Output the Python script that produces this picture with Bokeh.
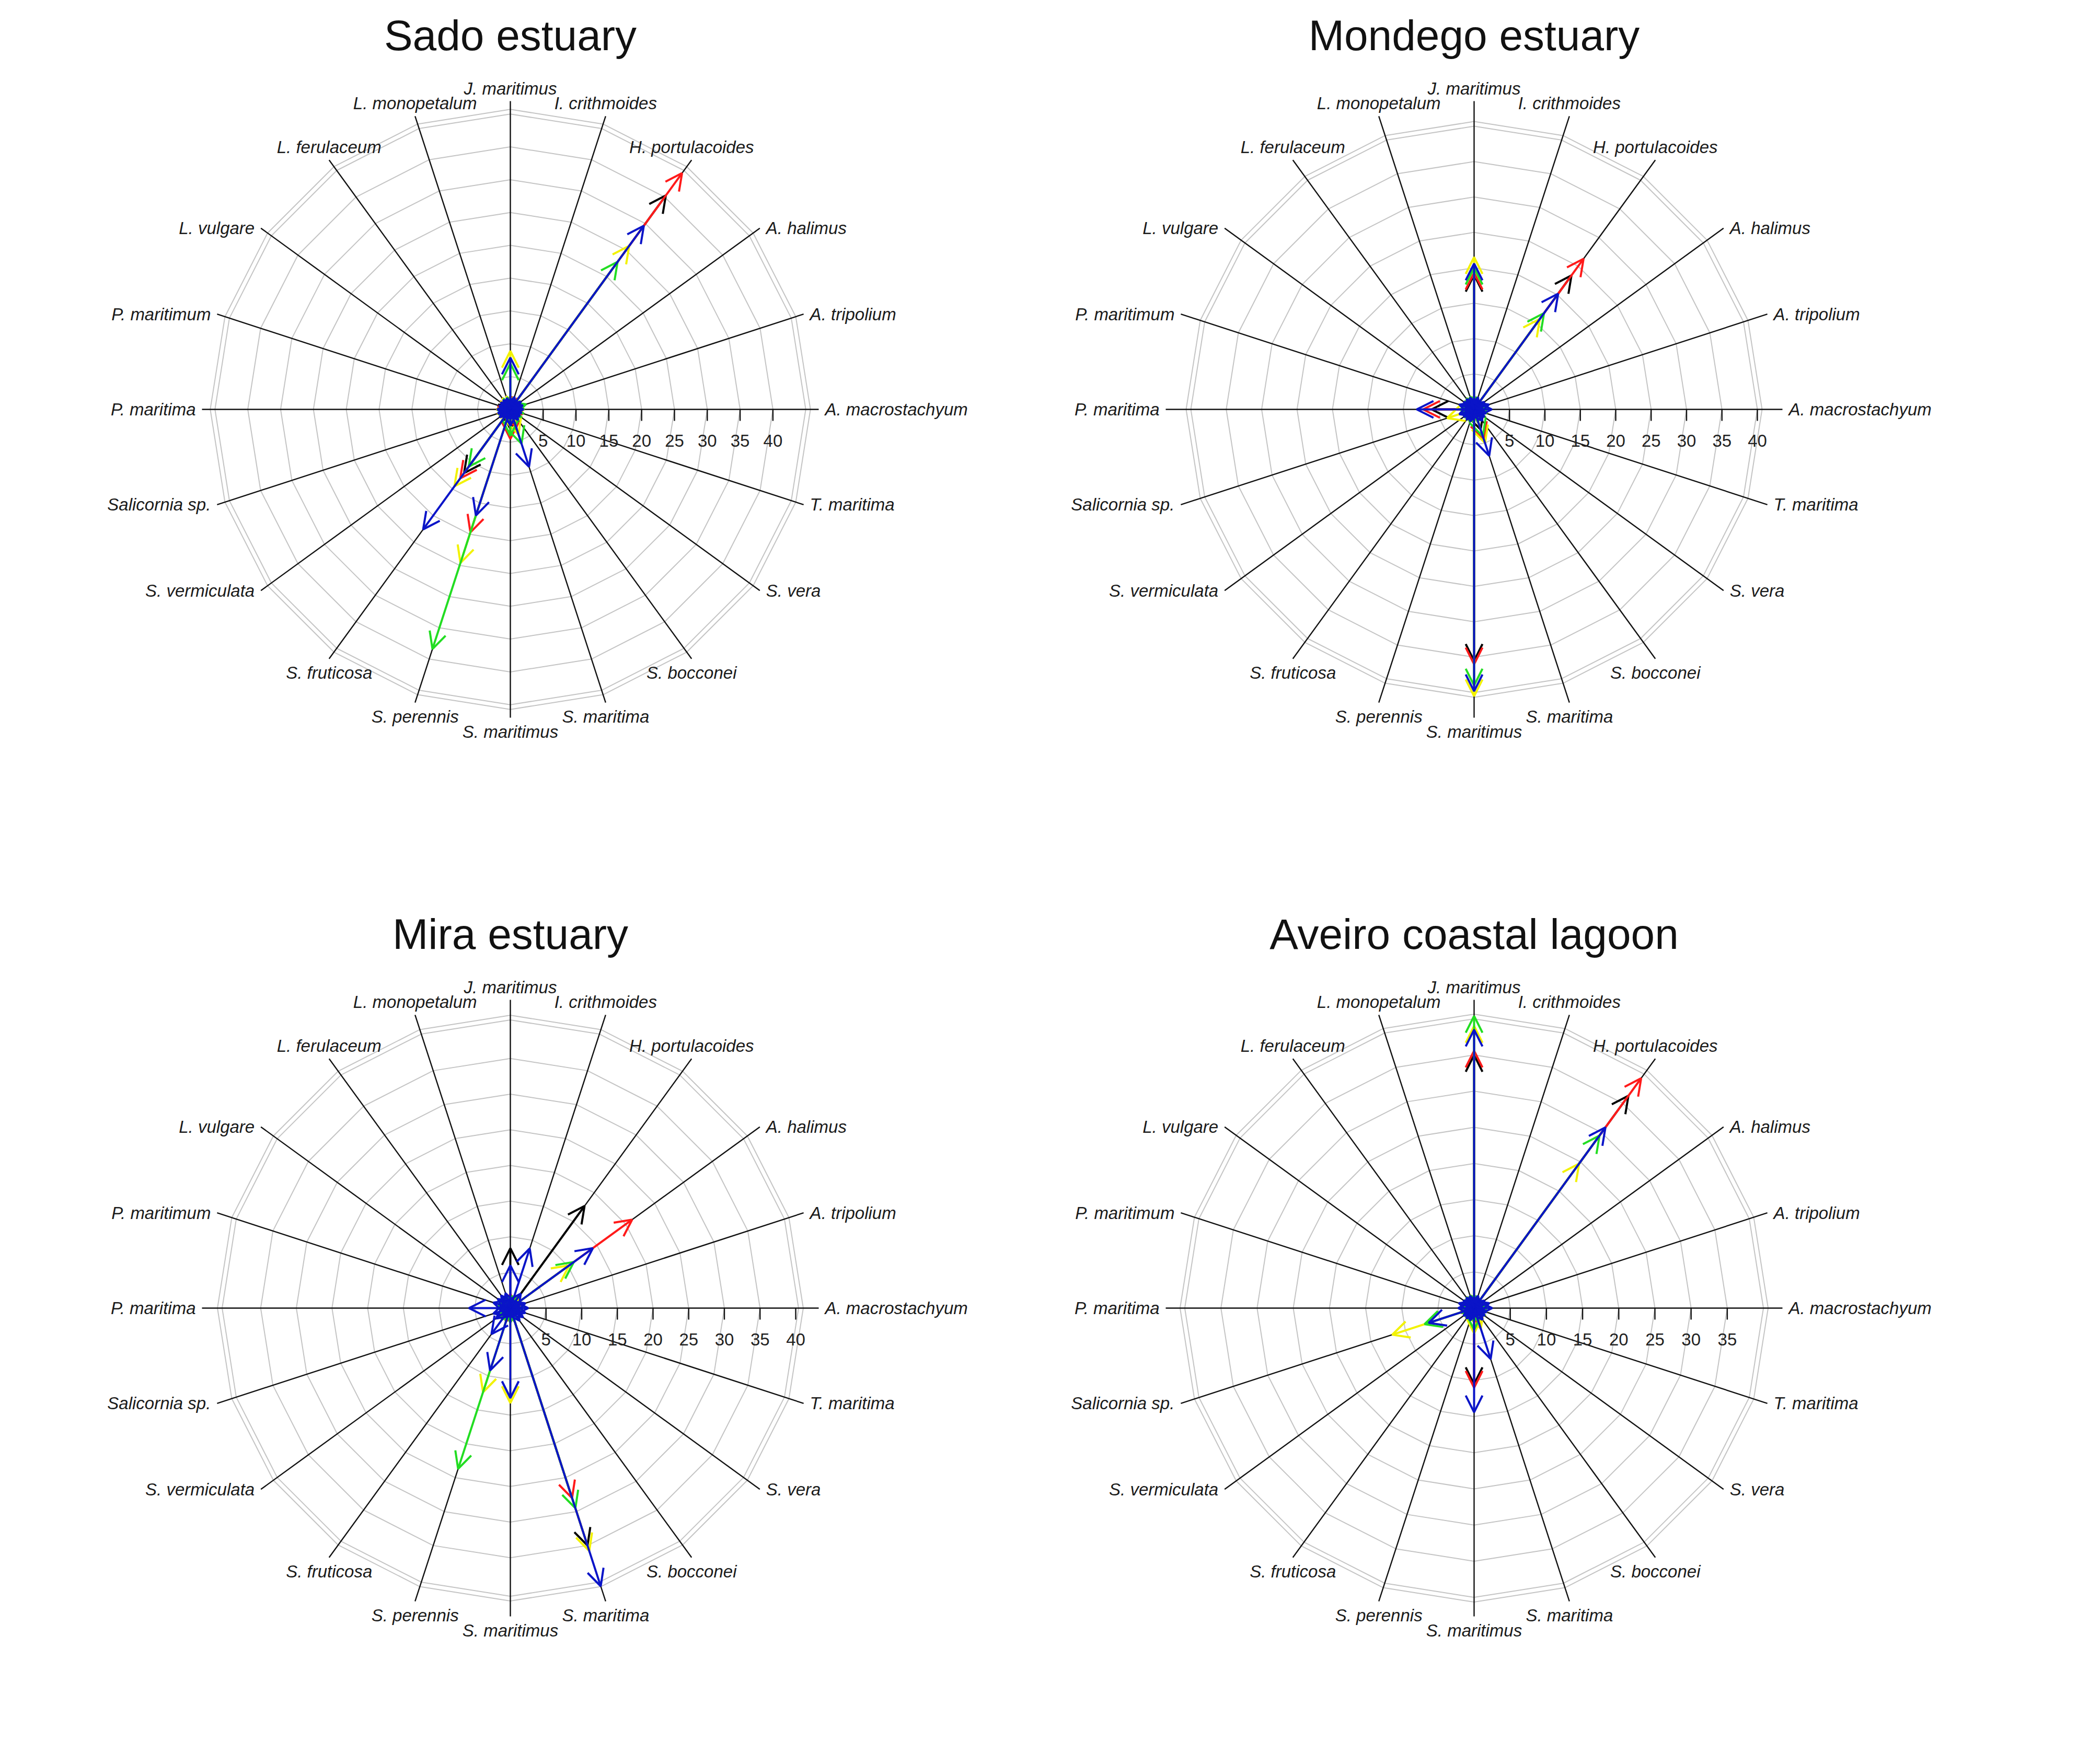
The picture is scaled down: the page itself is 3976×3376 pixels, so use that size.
import numpy as np
from bokeh.plotting import figure
from bokeh.models import ColumnDataSource, Range1d, Arrow, OpenHead
from bokeh.layouts import column, row
from bokeh.embed import file_html
from bokeh.resources import INLINE
from bokeh.core.properties import value

# ---------------- data ----------------
species = ["J. maritimus", "I. crithmoides", "H. portulacoides", "A. halimus", "A. tripolium",
           "A. macrostachyum", "T. maritima", "S. vera", "S. bocconei", "S. maritima",
           "S. maritimus", "S. perennis", "S. fruticosa", "S. vermiculata", "Salicornia sp.",
           "P. maritima", "P. maritimum", "L. vulgare", "L. ferulaceum", "L. monopetalum"]
spoke_angle_deg = [90, 72, 54, 36, 18, 0, -18, -36, -54, -72, -90, -108, -126, -144, -162,
                   180, 162, 144, 126, 108]

titles = ["Sado estuary", "Mondego estuary", "Mira estuary", "Aveiro coastal lagoon"]
series_names = ["black", "red", "yellow", "green", "blue"]

sado_black = [1.5, 1.0, 40.3, 1.0, 1.0, 1.0, 0.8, 0.8, 1.0, 2.0, 3.0, 2.0, 12.0, 1.0, 1.0, 1.0, 0.8, 0.8, 0.8, 0.8]
sado_red = [2.0, 1.0, 44.5, 1.0, 1.5, 1.0, 0.8, 0.8, 1.0, 3.0, 4.5, 19.7, 13.0, 1.0, 1.0, 1.0, 0.8, 0.8, 0.8, 0.8]
sado_yellow = [8.9, 1.0, 30.8, 1.0, 1.5, 1.0, 0.8, 0.8, 1.5, 4.0, 2.0, 24.6, 14.5, 1.0, 1.5, 1.0, 0.8, 0.8, 0.8, 0.8]
sado_green = [7.0, 1.5, 27.8, 1.5, 2.5, 2.0, 1.0, 1.0, 2.0, 5.5, 4.0, 38.4, 10.8, 1.5, 1.5, 1.0, 0.8, 0.8, 0.8, 0.8]
sado_blue = [7.9, 2.0, 34.6, 2.0, 2.0, 2.0, 1.8, 1.8, 2.0, 9.2, 2.5, 17.0, 22.6, 2.0, 2.0, 2.0, 1.8, 1.8, 1.8, 1.8]

mondego_black = [19.0, 1.0, 23.4, 1.0, 1.0, 1.0, 0.8, 0.8, 1.0, 3.0, 35.5, 1.0, 1.0, 1.0, 1.5, 6.0, 1.0, 0.8, 0.8, 0.8]
mondego_red = [19.3, 1.0, 26.3, 1.0, 2.0, 1.0, 0.8, 0.8, 1.0, 4.5, 36.0, 1.0, 1.0, 1.0, 2.0, 7.2, 1.0, 0.8, 0.8, 0.8]
mondego_yellow = [21.5, 1.0, 15.8, 1.0, 1.0, 1.0, 0.8, 0.8, 1.5, 5.0, 40.5, 1.5, 1.0, 1.5, 4.0, 2.0, 1.0, 0.8, 0.8, 0.8]
mondego_green = [20.0, 1.0, 16.8, 1.0, 1.0, 1.0, 0.8, 0.8, 1.0, 4.0, 39.0, 1.0, 1.0, 1.0, 2.0, 2.0, 1.0, 0.8, 0.8, 0.8]
mondego_blue = [20.6, 1.8, 20.2, 1.8, 2.2, 2.5, 1.8, 1.8, 2.0, 6.9, 39.8, 1.8, 1.8, 1.8, 2.2, 8.1, 2.2, 1.8, 1.8, 1.8]

mira_black = [8.4, 1.0, 17.7, 1.0, 1.0, 1.0, 0.8, 0.8, 1.0, 35.0, 2.0, 2.0, 1.5, 1.0, 1.0, 1.5, 1.0, 0.8, 0.8, 0.8]
mira_red = [2.0, 1.0, 2.0, 21.1, 1.5, 1.0, 0.8, 0.8, 1.0, 28.0, 2.0, 2.0, 1.5, 1.0, 1.0, 1.5, 1.0, 0.8, 0.8, 0.8]
mira_yellow = [1.5, 1.0, 2.0, 10.2, 1.0, 1.0, 0.8, 0.8, 1.0, 35.8, 13.3, 12.4, 2.0, 1.0, 1.0, 1.5, 1.0, 0.8, 0.8, 0.8]
mira_green = [1.5, 1.0, 1.5, 11.0, 1.0, 1.0, 0.8, 0.8, 1.0, 29.5, 2.0, 23.7, 2.0, 1.0, 1.0, 1.5, 1.0, 0.8, 0.8, 0.8]
mira_blue = [6.0, 8.8, 2.5, 14.3, 2.2, 2.5, 2.2, 2.2, 2.2, 41.0, 12.6, 9.2, 4.5, 2.5, 2.5, 5.8, 2.5, 2.2, 2.2, 2.2]

aveiro_black = [35.0, 1.0, 36.3, 1.0, 1.0, 1.0, 0.8, 0.8, 1.0, 2.0, 10.5, 1.0, 1.0, 1.0, 2.0, 1.5, 1.0, 0.8, 0.8, 0.8]
aveiro_red = [35.6, 1.0, 39.3, 1.0, 1.0, 1.0, 0.8, 0.8, 1.0, 2.5, 11.0, 1.0, 1.0, 1.0, 2.0, 1.5, 1.0, 0.8, 0.8, 0.8]
aveiro_yellow = [39.0, 1.0, 24.7, 1.0, 1.0, 1.0, 0.8, 0.8, 1.5, 3.0, 3.5, 1.5, 1.0, 1.5, 11.9, 1.5, 1.0, 0.8, 0.8, 0.8]
aveiro_green = [40.4, 1.0, 29.5, 1.0, 1.0, 1.0, 0.8, 0.8, 1.0, 2.0, 3.0, 1.0, 1.0, 1.0, 7.2, 1.5, 1.0, 0.8, 0.8, 0.8]
aveiro_blue = [38.5, 1.8, 30.9, 1.8, 2.2, 2.5, 1.8, 1.8, 2.0, 7.4, 14.4, 1.8, 1.8, 1.8, 6.6, 2.2, 2.2, 1.8, 1.8, 1.8]

sado_ticks = [5, 10, 15, 20, 25, 30, 35, 40]
mondego_ticks = [5, 10, 15, 20, 25, 30, 35, 40]
mira_ticks = [5, 10, 15, 20, 25, 30, 35, 40]
aveiro_ticks = [5, 10, 15, 20, 25, 30, 35]

sado_rings = [5, 10, 15, 20, 25, 30, 35, 40]
mondego_rings = [5, 10, 15, 20, 25, 30, 35]
mira_rings = [5, 10, 15, 20, 25, 30, 35]
aveiro_rings = [5, 10, 15, 20, 25, 30, 35]

sado_outer = 45.0
mondego_outer = 40.0
mira_outer = 40.4
aveiro_outer = 40.0

# ---------------- styling ----------------
COLORS = {"black": "#000000", "red": "#ff1a1a", "yellow": "#f2f200",
          "green": "#22dd22", "blue": "#0a14c8"}
FONT = value("Liberation Sans")
CY = 783          # panel centre in px from panel's top
SPOKE_PX = 590


def make_panel(title, vals, ticks, rings, outer, s, W, H, CX):
    p = figure(width=W, height=H,
               x_range=Range1d(-CX / s, (W - CX) / s),
               y_range=Range1d(-(H - CY) / s, CY / s),
               x_axis_location=None, y_axis_location=None,
               toolbar_location=None, output_backend="svg",
               min_border=0, outline_line_color=None,
               background_fill_color="white", border_fill_color="white")
    p.grid.visible = False

    th = np.deg2rad(np.array(spoke_angle_deg, dtype=float))
    cs, sn = np.cos(th), np.sin(th)
    order = np.argsort(th)
    tclose = np.append(th[order], th[order][0])

    # grey web rings (inner rings + double outer frame)
    radii = list(rings) + [outer, outer + 9.0 / s]
    p.multi_line([list(r * np.cos(tclose)) for r in radii],
                 [list(r * np.sin(tclose)) for r in radii],
                 line_color="#c4c4c4", line_width=2)

    # spokes
    L = SPOKE_PX / s
    p.segment(x0=np.zeros(20), y0=np.zeros(20), x1=L * cs, y1=L * sn,
              line_color="#111111", line_width=2.4)

    # radial axis ticks + labels
    tk = np.array(ticks, dtype=float)
    p.segment(x0=tk, y0=np.zeros(len(tk)), x1=tk, y1=np.full(len(tk), -22.0 / s),
              line_color="#111111", line_width=2.4)
    p.text(x=tk, y=np.full(len(tk), -60.0 / s), text=[str(t) for t in ticks],
           text_align="center", text_baseline="middle", text_font=FONT,
           text_font_size="33px", text_color="#222222")

    # species labels
    groups = {}
    for i, name in enumerate(species):
        ex, ey = L * cs[i], L * sn[i]
        if abs(cs[i]) > 0.7:
            al = "left" if cs[i] > 0 else "right"
            bl = "middle"
            x = ex + (12.0 / s if cs[i] > 0 else -12.0 / s)
            y = ey
        else:
            al = "center"
            if sn[i] > 0:
                bl = "bottom"; y = ey + 6.0 / s
            else:
                bl = "top"; y = ey - 8.0 / s
            x = ex
        groups.setdefault((al, bl), ([], [], []))
        groups[(al, bl)][0].append(x)
        groups[(al, bl)][1].append(y)
        groups[(al, bl)][2].append(name)
    for (al, bl), (xs, ys, ts) in groups.items():
        p.text(x=xs, y=ys, text=ts, text_align=al, text_baseline=bl,
               text_font=FONT, text_font_style="italic",
               text_font_size="33px", text_color="#1a1a1a")

    # arrows
    for name in series_names:
        v = np.array(vals[name], dtype=float)
        src = ColumnDataSource(dict(x0=np.zeros(20), y0=np.zeros(20),
                                    x1=v * cs, y1=v * sn))
        col = COLORS[name]
        p.add_layout(Arrow(source=src, x_start="x0", y_start="y0",
                           x_end="x1", y_end="y1", line_color=col, line_width=4,
                           end=OpenHead(size=32, line_color=col, line_width=4)))

    # title
    p.text(x=[0], y=[716.0 / s], text=[title], text_align="center",
           text_baseline="middle", text_font=FONT, text_font_size="82px",
           text_color="#111111")
    return p


sado = dict(black=sado_black, red=sado_red, yellow=sado_yellow, green=sado_green, blue=sado_blue)
mondego = dict(black=mondego_black, red=mondego_red, yellow=mondego_yellow, green=mondego_green, blue=mondego_blue)
mira = dict(black=mira_black, red=mira_red, yellow=mira_yellow, green=mira_green, blue=mira_blue)
aveiro = dict(black=aveiro_black, red=aveiro_red, yellow=aveiro_yellow, green=aveiro_green, blue=aveiro_blue)

W_LEFT, W_RIGHT = 1900, 1960
CX_LEFT = 976
CX_RIGHT = 2828 - 8 - W_LEFT

p1 = make_panel(titles[0], sado, sado_ticks, sado_rings, sado_outer, 12.56, W_LEFT, 1720, CX_LEFT)
p2 = make_panel(titles[1], mondego, mondego_ticks, mondego_rings, mondego_outer, 13.55, W_RIGHT, 1720, CX_RIGHT)
p3 = make_panel(titles[2], mira, mira_ticks, mira_rings, mira_outer, 13.65, W_LEFT, 1640, CX_LEFT)
p4 = make_panel(titles[3], aveiro, aveiro_ticks, aveiro_rings, aveiro_outer, 13.84, W_RIGHT, 1640, CX_RIGHT)

layout = column(row(p1, p2), row(p3, p4))
open("out.html", "w").write(file_html(layout, INLINE))
